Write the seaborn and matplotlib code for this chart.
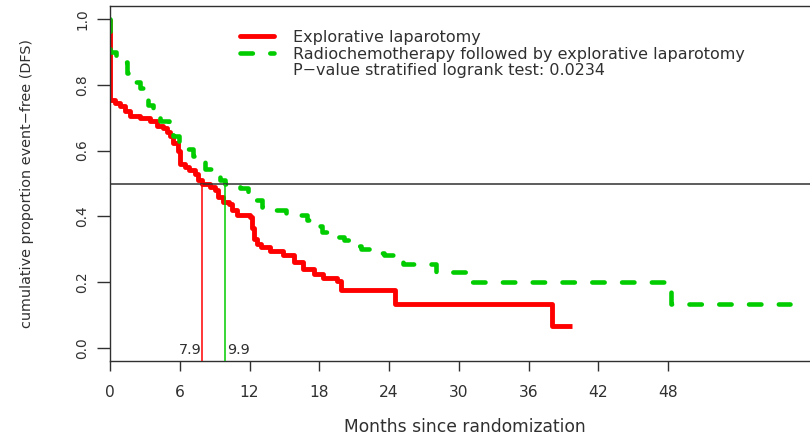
import matplotlib
matplotlib.use("Agg")
import matplotlib.pyplot as plt
import pandas as pd
import seaborn as sns
from matplotlib.lines import Line2D

# ---------------- data ----------------
red_time = [0, 0, 0.4, 0.85, 1.3, 1.7, 2.6, 3.4, 4.0, 4.6, 4.9, 5.15, 5.45, 5.85,
            6.0, 6.45, 6.75, 7.3, 7.6, 7.9, 8.6, 9.0, 9.3, 9.7, 10.2, 10.5, 10.9,
            12.0, 12.2, 12.4, 12.6, 13.0, 13.8, 14.9, 15.8, 16.6, 17.5, 18.3,
            19.5, 19.9, 24.5, 38.0, 39.7]
red_surv = [1.0, 0.755, 0.745, 0.735, 0.72, 0.705, 0.70, 0.69, 0.675, 0.668, 0.658,
            0.643, 0.622, 0.60, 0.56, 0.55, 0.54, 0.53, 0.51, 0.497, 0.49, 0.48,
            0.46, 0.444, 0.438, 0.418, 0.403, 0.398, 0.365, 0.33, 0.316, 0.306,
            0.296, 0.281, 0.26, 0.24, 0.225, 0.214, 0.204, 0.177, 0.132, 0.066,
            0.066]

green_time = [0, 0, 0.5, 1.0, 1.5, 2.0, 2.6, 3.1, 3.3, 3.7, 4.3, 5.1, 5.4, 5.9,
              6.5, 7.1, 7.6, 8.2, 8.9, 9.5, 9.9, 11.2, 11.9, 12.3, 13.1, 14.0,
              15.1, 16.0, 16.9, 17.3, 18.2, 18.9, 20.1, 20.6, 21.6, 22.4, 23.6,
              24.4, 25.2, 28.0, 31.1, 48.2, 58.5]
green_surv = [1.0, 0.90, 0.885, 0.87, 0.835, 0.81, 0.79, 0.77, 0.74, 0.715, 0.69,
              0.675, 0.645, 0.625, 0.605, 0.585, 0.565, 0.545, 0.525, 0.51, 0.50,
              0.485, 0.47, 0.45, 0.43, 0.418, 0.41, 0.405, 0.39, 0.37, 0.352,
              0.337, 0.327, 0.311, 0.301, 0.29, 0.281, 0.271, 0.255, 0.23, 0.2,
              0.133, 0.133]

median_red = 7.9
median_green = 9.9
median_labels = ["7.9", "9.9"]
x_ticks = [0, 6, 12, 18, 24, 30, 36, 42, 48]
y_ticks = [0.0, 0.2, 0.4, 0.6, 0.8, 1.0]
y_ticklabels = ["0.0", "0.2", "0.4", "0.6", "0.8", "1.0"]
legend_labels = ["Explorative laparotomy",
                 "Radiochemotherapy followed by explorative laparotomy",
                 "P\u2212value stratified logrank test: 0.0234"]
x_label = "Months since randomization"
y_label = "cumulative proportion event\u2212free (DFS)"

RED = "#FF0000"
GREEN = "#00CC00"
INK = "#303030"

# ---------------- styling ----------------
sns.set_theme(style="white")
plt.rcParams["font.family"] = ["DejaVu Sans"]
plt.rcParams["axes.edgecolor"] = INK

W, H = 810, 437
fig = plt.figure(figsize=(W / 100, H / 100), dpi=100)
fig.patch.set_facecolor("white")
L, R, T, B = 110, 820, 6, 361
ax = fig.add_axes([L / W, 1 - B / H, (R - L) / W, (B - T) / H])
ax.set_facecolor("white")

red_df = pd.DataFrame({"time": red_time, "surv": red_surv})
green_df = pd.DataFrame({"time": green_time, "surv": green_surv})

sns.lineplot(data=red_df, x="time", y="surv", ax=ax, estimator=None, sort=False,
             drawstyle="steps-post", color=RED, linewidth=3.5,
             solid_joinstyle="round", solid_capstyle="butt")
sns.lineplot(data=green_df, x="time", y="surv", ax=ax, estimator=None, sort=False,
             drawstyle="steps-post", color=GREEN, linewidth=3.3,
             linestyle=(0, (2.7, 3.8)), dash_capstyle="round")

px_per_month = 11.63
ax.set_xlim(0, (R - L) / px_per_month)
ax.set_ylim(-0.04, 1.04)

ax.axhline(0.5, color=INK, linewidth=1.1, zorder=3)
ax.vlines(median_red, -0.04, 0.5, color=RED, linewidth=1.1, zorder=3)
ax.vlines(median_green, -0.04, 0.5, color=GREEN, linewidth=1.1, zorder=3)
ax.text(median_red - 0.05, -0.019, median_labels[0], ha="right", va="baseline",
        fontsize=10.4, color=INK)
ax.text(median_green + 0.15, -0.019, median_labels[1], ha="left", va="baseline",
        fontsize=10.4, color=INK)

ax.set_xticks(x_ticks)
ax.set_xticklabels([str(v) for v in x_ticks], fontsize=11.2, color=INK)
ax.set_yticks(y_ticks)
ax.set_yticklabels(y_ticklabels, rotation=90, va="center", fontsize=9.8, color=INK)
ax.tick_params(axis="x", direction="out", length=7, width=1, color=INK, pad=10.0,
               bottom=True)
ax.tick_params(axis="y", direction="out", length=9.4, width=1, color=INK, pad=5.5,
               left=True)
ax.grid(False)
for s in ax.spines.values():
    s.set_color(INK)
    s.set_linewidth(1.0)

ax.set_xlabel(x_label, fontsize=12.3, color=INK)
ax.xaxis.label.set_va("baseline")
ax.xaxis.set_label_coords(0.5, (B - 432.3) / (B - T))
ax.set_ylabel(y_label, fontsize=10.4, color=INK)
ax.yaxis.set_label_coords((34 - L) / (R - L), 0.5)

handles = [Line2D([], [], color=RED, linewidth=3.5),
           Line2D([], [], color=GREEN, linewidth=3.3, linestyle=(0, (2.7, 3.8)),
                  dash_capstyle="round"),
           Line2D([], [], linestyle="none")]
leg = ax.legend(handles, legend_labels, loc="upper left",
                bbox_to_anchor=(240 / W, 1 - 30 / H), bbox_transform=fig.transFigure,
                frameon=False, fontsize=11.5, borderpad=0, handlelength=2.1,
                handletextpad=1.2, labelspacing=0.1, borderaxespad=0)
for t in leg.get_texts():
    t.set_color(INK)

fig.savefig("out.png", dpi=100, facecolor="white")
